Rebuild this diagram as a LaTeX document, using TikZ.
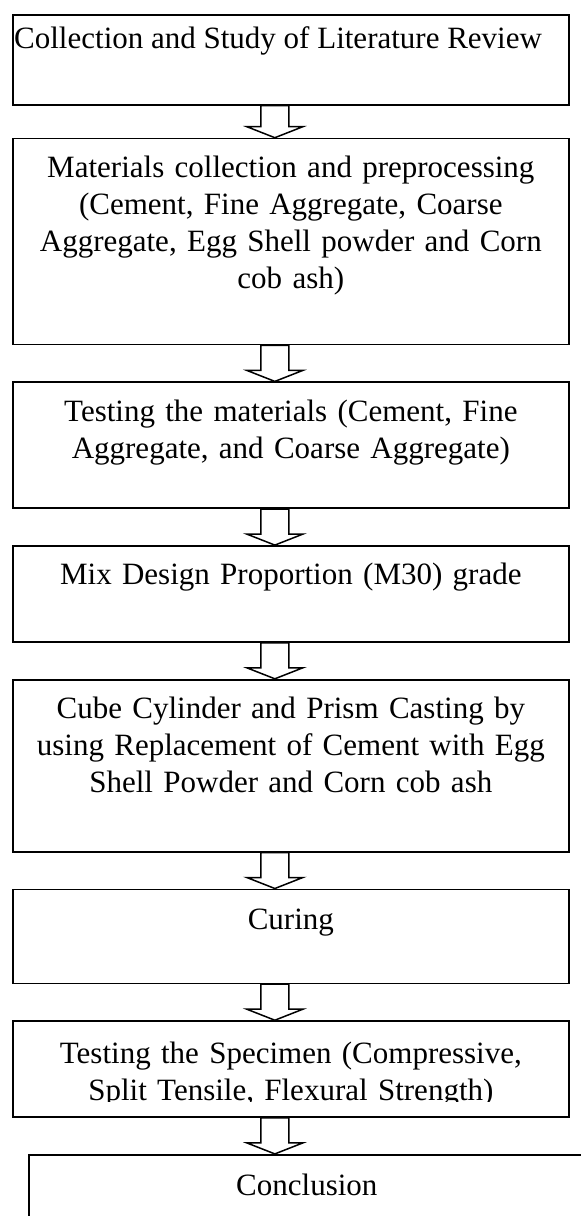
\documentclass[tikz,border=0pt]{standalone}
\usepackage{fontspec}
\setmainfont{Liberation Serif}
\usetikzlibrary{positioning,calc}
\tikzset{
  stage/.style={draw, line width=1.7pt, minimum width=556pt, inner sep=0pt},
  stagetext/.style={inner sep=0pt, text width=540pt, align=center, font=\fontsize{31pt}{37pt}\selectfont},
  hollow/.style={draw, line width=1.5pt, fill=white, line join=miter},
}
% hollow block arrow from the bottom of one box to the top of the next
\newcommand{\flowarrow}[2]{%
  \draw[hollow] let \p1=([xshift=-16pt]#1.south), \p2=(#2.north) in
    (\x1-14pt,\y1) -- (\x1+14pt,\y1) -- (\x1+14pt,\y2+11pt) -- (\x1+28pt,\y2+11pt)
    -- (\x1,\y2) -- (\x1-28pt,\y2+11pt) -- (\x1-14pt,\y2+11pt) -- cycle;}

\begin{document}
\begin{tikzpicture}[x=1pt, y=-1pt, node distance=36pt]
  \useasboundingbox (0,0) rectangle (581,1216);
  % boxes
  \node[stage, minimum height=90pt, anchor=north west] (b1) at (12,14) {};
  \node[stage, minimum height=206pt, below=32pt of b1] (b2) {};
  \node[stage, minimum height=126pt, below=of b2] (b3) {};
  \node[stage, minimum height=96pt, below=of b3] (b4) {};
  \node[stage, minimum height=172pt, below=of b4] (b5) {};
  \node[stage, minimum height=94pt, below=of b5] (b6) {};
  \node[stage, minimum height=96pt, below=of b6] (b7) {};
  \node[stage, minimum height=110pt, below=of b7, xshift=16pt] (b8) {};

  % texts
  \node[stagetext, text width=, align=left, anchor=north west] (t1) at ([xshift=2pt,yshift=-12pt]b1.north west) {Collection and Study of Literature Review};
  \node[stagetext, below=18pt of b2.north] (t2) {Materials collection and preprocessing\\(Cement, Fine Aggregate, Coarse\\Aggregate, Egg Shell powder and Corn\\cob ash)};
  \node[stagetext, below=18pt of b3.north] (t3) {Testing the materials (Cement, Fine\\Aggregate, and Coarse Aggregate)};
  \node[stagetext, below=18pt of b4.north] (t4) {Mix Design Proportion (M30) grade};
  \node[stagetext, below=18pt of b5.north] (t5) {Cube Cylinder and Prism Casting by\\using Replacement of Cement with Egg\\Shell Powder and Corn cob ash};
  \node[stagetext, below=20pt of b6.north] (t6) {Curing};
  \begin{scope}
    \clip (b7.north west) rectangle ([yshift=16pt]b7.south east);
    \node[stagetext, below=22pt of b7.north] (t7) {Testing the Specimen (Compressive,\\Split Tensile, Flexural Strength)};
  \end{scope}
  \node[stagetext, below=20pt of b8.north] (t8) {Conclusion};

  % arrows
  \flowarrow{b1}{b2}
  \flowarrow{b2}{b3}
  \flowarrow{b3}{b4}
  \flowarrow{b4}{b5}
  \flowarrow{b5}{b6}
  \flowarrow{b6}{b7}
  \flowarrow{b7}{b8}
\end{tikzpicture}
\end{document}
